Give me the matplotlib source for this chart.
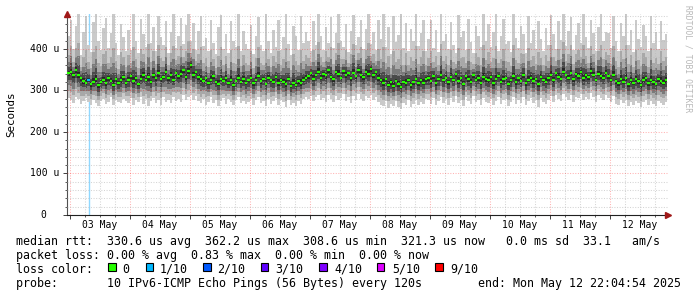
import matplotlib

matplotlib.use("Agg")
matplotlib.rcParams["font.family"] = "DejaVu Sans Mono"
import matplotlib.pyplot as plt
import numpy as np
from matplotlib.patches import Rectangle

W, H = 697, 297

# hourly values starting 02 May 23:00 (microseconds), one row per day
median = [
    342, 345, 338, 350, 336, 330, 322, 318, 326, 315, 321, 328, 312, 320, 325, 317, 330, 322, 314, 327, 319, 324, 332, 318,
    326, 335, 322, 330, 316, 328, 338, 324, 332, 320, 336, 329, 341, 327, 333, 345, 330, 338, 326, 343, 335, 340, 348, 333,
    346, 362, 338, 344, 333, 327, 322, 330, 318, 325, 334, 320, 316, 328, 322, 331, 319, 326, 314, 323, 330, 321, 327, 318,
    324, 330, 318, 326, 335, 322, 328, 316, 331, 324, 320, 333, 318, 326, 321, 315, 328, 311, 319, 314, 322, 317, 326, 330,
    334, 342, 328, 338, 345, 331, 340, 336, 348, 333, 327, 344, 339, 330, 346, 337, 341, 329, 343, 335, 350, 338, 332, 345,
    340, 352, 336, 344, 330, 325, 318, 327, 314, 320, 311, 323, 316, 309, 321, 318, 326, 313, 320, 328, 317, 324, 319, 327,
    330, 322, 335, 318, 328, 337, 324, 331, 320, 333, 326, 339, 323, 329, 316, 334, 327, 321, 336, 325, 330, 319, 332, 327,
    324, 332, 318, 328, 335, 321, 327, 330, 316, 325, 334, 320, 329, 323, 337, 318, 326, 331, 322, 328, 315, 333, 326, 321,
    330, 338, 325, 341, 333, 328, 345, 336, 331, 342, 327, 339, 334, 344, 329, 337, 332, 346, 338, 326, 340, 335, 331, 343,
    334, 326, 338, 322, 317, 328, 321, 330, 315, 325, 319, 327, 322, 313, 324, 329, 318, 326, 320, 316, 327, 323, 319, 325,
]
ping_min = [
    282, 276, 270, 285, 279, 268, 274, 281, 272, 266, 278, 270, 262, 275, 280, 268, 273, 284, 265, 277, 271, 269, 279, 274,
    270, 281, 266, 276, 272, 284, 268, 279, 263, 274, 282, 270, 277, 265, 283, 272, 278, 269, 285, 275, 280, 271, 288, 276,
    283, 290, 278, 286, 274, 269, 280, 266, 273, 284, 270, 277, 262, 275, 281, 268, 279, 272, 264, 276, 283, 270, 275, 267,
    272, 280, 266, 278, 284, 270, 275, 263, 279, 268, 274, 282, 265, 277, 271, 260, 276, 264, 270, 262, 275, 268, 279, 283,
    280, 287, 274, 283, 290, 276, 282, 271, 288, 279, 273, 286, 277, 281, 291, 275, 284, 270, 286, 278, 292, 280, 274, 287,
    282, 289, 276, 284, 272, 266, 262, 275, 258, 268, 263, 274, 260, 256, 270, 265, 276, 261, 268, 277, 264, 272, 267, 279,
    276, 268, 282, 264, 274, 285, 270, 279, 266, 281, 272, 287, 269, 277, 262, 283, 274, 268, 286, 271, 278, 265, 282, 273,
    270, 280, 266, 275, 284, 268, 277, 279, 262, 273, 283, 267, 276, 270, 285, 264, 274, 281, 269, 276, 261, 282, 273, 268,
    277, 286, 272, 288, 280, 274, 291, 283, 278, 289, 273, 285, 281, 292, 276, 284, 279, 293, 285, 272, 288, 282, 277, 290,
    282, 273, 286, 268, 264, 276, 269, 278, 262, 272, 266, 275, 270, 259, 271, 277, 265, 274, 268, 263, 275, 270, 266, 273,
]
ping_max = [
    430, 470, 400, 455, 490, 385, 440, 478, 410, 392, 465, 488, 420, 398, 450, 475, 402, 438, 490, 415, 386, 460, 428, 395,
    446, 398, 485, 420, 390, 472, 436, 405, 490, 415, 452, 396, 480, 428, 410, 466, 390, 440, 488, 402, 430, 474, 412, 458,
    490, 420, 462, 398, 444, 480, 408, 426, 395, 470, 415, 388, 452, 482, 400, 436, 390, 468, 420, 404, 486, 395, 442, 412,
    400, 458, 388, 432, 476, 410, 395, 484, 420, 390, 446, 404, 470, 398, 428, 490, 412, 386, 456, 430, 398, 478, 415, 440,
    420, 396, 466, 410, 488, 432, 398, 452, 415, 476, 402, 438, 490, 420, 405, 460, 392, 444, 482, 410, 428, 470, 400, 448,
    486, 412, 440, 398, 470, 425, 490, 405, 452, 388, 478, 416, 434, 486, 402, 462, 395, 448, 420, 484, 408, 438, 470, 396,
    424, 470, 402, 446, 392, 488, 418, 436, 400, 464, 410, 390, 482, 428, 444, 398, 472, 416, 390, 456, 432, 404, 486, 420,
    460, 405, 440, 488, 396, 430, 472, 412, 420, 392, 484, 426, 402, 456, 436, 390, 478, 414, 446, 400, 468, 424, 395, 450,
    410, 482, 436, 400, 466, 422, 490, 408, 444, 476, 398, 434, 462, 415, 488, 428, 402, 470, 438, 396, 452, 484, 418, 440,
    438, 402, 478, 420, 396, 462, 430, 488, 410, 446, 392, 470, 424, 404, 458, 432, 396, 480, 414, 440, 400, 466, 422, 436,
]
loss_hours = [7.4]  # hours after 03 May 00:00 with 1/10 loss
day_labels = ["03 May", "04 May", "05 May", "06 May", "07 May",
              "08 May", "09 May", "10 May", "11 May", "12 May"]
y_ticks = [0, 100, 200, 300, 400]
y_labels = ["0", "100 u", "200 u", "300 u", "400 u"]

stat_lines = [
    "median rtt:  330.6 us avg  362.2 us max  308.6 us min  321.3 us now   0.0 ms sd  33.1   am/s",
    "packet loss: 0.00 % avg  0.83 % max  0.00 % min  0.00 % now",
    "loss color:",
    "probe:       10 IPv6-ICMP Echo Pings (56 Bytes) every 120s        end: Mon May 12 22:04:54 2025",
]
loss_names = ["0", "1/10", "2/10", "3/10", "4/10", "5/10", "9/10"]
loss_colors = ["#26ff00", "#00b8ff", "#0059ff", "#5e00ff", "#7e00ff", "#dd00ff", "#ff0000"]


def fx(x):
    return x / W


def fy(y):
    return 1 - y / H


med = np.array(median, dtype=float)
lo = np.array(ping_min, dtype=float)
hi = np.array(ping_max, dtype=float)
t = np.arange(len(med)) - 1.2

fig = plt.figure(figsize=(W / 100, H / 100), dpi=100)
ax = fig.add_axes([fx(67), fy(215), fx(668 - 67), (215 - 14) / H])
ax.set_xlim(-1.2, 239.2)
ax.set_ylim(0, 484)


def smoke(bottom, top, color):
    tt = np.append(t, t[-1] + 1)
    ax.fill_between(tt, np.append(bottom, bottom[-1]), np.append(top, top[-1]),
                    step="post", color=color, linewidth=0, zorder=2)


# smoke layers, outer pings lightest
smoke(lo, hi, "#cacaca")
smoke(med - 0.72 * (med - lo), med + 0.5 * (hi - med), "#a8a8a8")
smoke(med - 0.5 * (med - lo), med + 0.3 * (hi - med), "#7a7a7a")
smoke(med - 0.3 * (med - lo), med + 0.16 * (hi - med), "#4a4a4a")
smoke(med - 0.12 * (med - lo), med + 0.06 * (hi - med), "#262626")

for h in loss_hours:
    ax.axvline(h, color="#8fd8ff", lw=1, zorder=1)

seg_colors = [loss_colors[0]] * len(med)
for h in loss_hours:
    seg_colors[int(np.floor(h + 1.2))] = loss_colors[1]
ax.hlines(med, t, t + 1, colors=seg_colors, lw=1.6, zorder=4)

# grid
for h in range(0, 240, 6):
    if h % 24 == 0:
        ax.axvline(h, color="#ff0000", alpha=0.3, lw=0.75, ls=(0, (1, 1.5)), zorder=3)
    else:
        ax.axvline(h, color="#b8b8b8", alpha=0.6, lw=0.75, ls=(0, (1, 1.5)), zorder=3)
for v in range(20, 481, 20):
    if v % 100 == 0:
        ax.axhline(v, color="#ff0000", alpha=0.3, lw=0.75, ls=(0, (1, 1.5)), zorder=3)
    else:
        ax.axhline(v, color="#b8b8b8", alpha=0.6, lw=0.75, ls=(0, (1, 1.5)), zorder=3)

for s in ["top", "right"]:
    ax.spines[s].set_visible(False)
ax.spines["left"].set_color("#505050")
ax.spines["bottom"].set_color("#202020")
ax.spines["left"].set_linewidth(0.8)
ax.spines["bottom"].set_linewidth(0.8)
ax.set_yticks(y_ticks)
ax.set_yticks(range(0, 481, 20), minor=True)
ax.set_xticks(range(0, 240, 24))
ax.set_xticks(range(0, 240, 6), minor=True)
ax.tick_params(which="major", length=3, width=0.7, color="#404040", labelleft=False, labelbottom=False)
ax.tick_params(which="minor", length=1.5, width=0.6, color="#404040")

ax.plot([0], [1], marker="^", ms=4, color="#a01818", transform=ax.transAxes, clip_on=False, zorder=6)
ax.plot([1], [0], marker=">", ms=4, color="#a01818", transform=ax.transAxes, clip_on=False, zorder=6)

for v, lab in zip(y_ticks, y_labels):
    yp = 215 - v * (215 - 14) / 484
    xr = 59.5 if lab != "0" else 46.7
    fig.text(fx(xr), fy(yp), lab, ha="right", va="center", fontsize=7)
for i, lab in enumerate(day_labels):
    fig.text(fx(70 + 60 * i + 30), fy(224.5), lab, ha="center", va="center", fontsize=7)

fig.text(fx(11), fy(114), "Seconds", rotation=90, ha="center", va="center", fontsize=7.8)
fig.text(fx(688), fy(5), "RRDTOOL / TOBI OETIKER", rotation=270, ha="center", va="top",
         fontsize=5.8, color="#b8b8b8")

rows = [241, 255.5, 269.5, 283.5]
for y, line in zip(rows, stat_lines):
    fig.text(fx(16), fy(y), line, ha="left", va="center", fontsize=8.4)

box_x = [108.3, 145.7, 203.3, 260.7, 319.3, 376.7, 435]
text_x = [122.7, 160, 217.3, 275, 334, 392, 450]
for bx, tx, name, c in zip(box_x, text_x, loss_names, loss_colors):
    fig.patches.append(Rectangle((fx(bx), fy(271)), 7.5 / W, 7.6 / H, facecolor=c,
                                 edgecolor="black", lw=0.8, transform=fig.transFigure))
    fig.text(fx(tx), fy(rows[2]), name, ha="left", va="center", fontsize=8.4)

fig.savefig("out.png", dpi=100)
